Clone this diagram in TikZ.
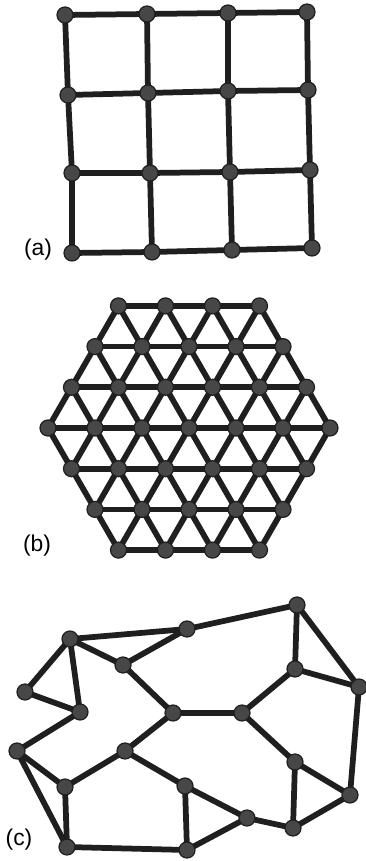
\documentclass[tikz,border=0pt]{standalone}
\usepackage{fontspec}
\setsansfont{Liberation Sans}
\usetikzlibrary{backgrounds}

\definecolor{bondgray}{HTML}{1F1F1F}
\definecolor{dotgray}{HTML}{474747}

\tikzset{
  vertex/.style={circle, fill=dotgray, draw=bondgray, line width=0.7pt, inner sep=0pt, minimum size=0.32cm},
  bond/.style={draw=bondgray, line width=0.115cm, line join=round},
  panel/.style={font=\sffamily\fontsize{13}{15}\selectfont, inner sep=0pt}
}

\begin{document}
\begin{tikzpicture}[x=0.02cm, y=-0.02cm]
  \useasboundingbox (0,0) rectangle (365,861);

  % (a) square lattice
  \foreach \r/\c/\x/\y in {0/0/65/15, 0/1/147/14, 0/2/228/13, 0/3/307/12,
                           1/0/68/95, 1/1/148/93, 1/2/228/91, 1/3/308/90,
                           2/0/72/173, 2/1/150/173, 2/2/230/172, 2/3/310/170,
                           3/0/72/253, 3/1/152/252, 3/2/232/250, 3/3/312/248}
    \node[vertex] (a\r\c) at (\x,\y) {};
  \begin{scope}[on background layer]
    \foreach \r in {0,...,3}
      \foreach \c/\d in {0/1,1/2,2/3} {
        \draw[bond] (a\r\c.center) -- (a\r\d.center);
        \draw[bond] (a\c\r.center) -- (a\d\r.center);
      }
  \end{scope}
  \node[panel] (labela) at (38,250) {(a)};

  % (b) triangular lattice, hexagonal patch
  \foreach \i in {0,...,6}
    \foreach \j in {0,...,6} {
      \pgfmathtruncatemacro{\s}{\i+\j}
      \ifnum\s>2 \ifnum\s<10
        \node[vertex] (b\i\j) at ({189+(\i-3+(\j-3)/2)*47}, {428+(\j-3)*40.7}) {};
      \fi\fi
    }
  \begin{scope}[on background layer]
    \foreach \i in {0,...,6}
      \foreach \j in {0,...,6} {
        \pgfmathtruncatemacro{\s}{\i+\j}
        \pgfmathtruncatemacro{\ii}{\i+1}
        \pgfmathtruncatemacro{\jj}{\j+1}
        \pgfmathtruncatemacro{\ih}{\i-1}
        \ifnum\s>2 \ifnum\s<10
          \ifnum\s<9
            \ifnum\i<6 \draw[bond] (b\i\j.center) -- (b\ii\j.center); \fi
            \ifnum\j<6 \draw[bond] (b\i\j.center) -- (b\i\jj.center); \fi
          \fi
          \ifnum\i>0 \ifnum\j<6 \draw[bond] (b\i\j.center) -- (b\ih\jj.center); \fi\fi
        \fi\fi
      }
  \end{scope}
  \node[panel] (labelb) at (37,546) {(b)};

  % (c) irregular network
  \foreach \n/\x/\y in {1/70/639, 2/187/629, 3/297/605, 4/25/692, 5/123/665,
                        6/295/669, 7/359/687, 8/80/712, 9/173/713, 10/242/713,
                        11/17/751, 12/125/751, 13/295/762, 14/65/787, 15/185/786,
                        16/350/795, 17/247/818, 18/293/828, 19/67/847, 20/187/850}
    \node[vertex] (c\n) at (\x,\y) {};
  \begin{scope}[on background layer]
    \foreach \p/\q in {1/2, 2/3, 1/4, 1/8, 1/5, 5/2, 4/8, 8/11, 5/9, 9/10,
                       9/12, 10/6, 6/3, 6/7, 3/7, 7/16, 10/13, 13/16, 13/18, 16/18,
                       18/17, 17/15, 17/20, 15/20, 15/12, 12/14, 14/11, 11/19, 14/19, 19/20}
      \draw[bond] (c\p.center) -- (c\q.center);
  \end{scope}
  \node[panel] (labelc) at (19,840) {(c)};
\end{tikzpicture}
\end{document}
